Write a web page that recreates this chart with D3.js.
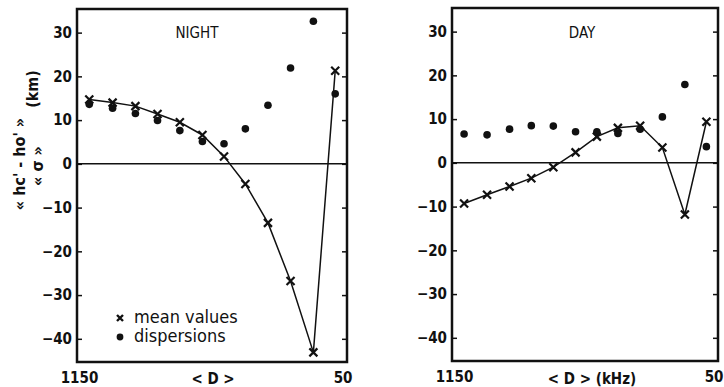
<!DOCTYPE html>
<html>
<head>
<meta charset="utf-8">
<script src="https://cdn.jsdelivr.net/npm/d3@7"></script>
<style>
  body { margin: 0; background: #fff; }
  svg text { font-family: "DejaVu Sans Condensed", "Liberation Sans Narrow", sans-serif; font-weight: bold; fill: #111; }
</style>
</head>
<body>
<div id="chart"></div>
<script>
// values (x = < D > in kHz, y in km)
const xValues = [1100, 1005, 912, 822, 731, 639, 551, 464, 372, 280, 187, 98];
const nightMean = [14.7, 14.0, 13.2, 11.4, 9.5, 6.6, 1.7, -4.6, -13.5, -26.8, -43.1, 21.3];
const nightDisp = [13.6, 12.7, 11.5, 9.9, 7.6, 5.1, 4.6, 8.0, 13.4, 21.9, 32.6, 16.0];
const dayMean = [-9.3, -7.3, -5.4, -3.5, -1.0, 2.4, 6.0, 8.0, 8.5, 3.5, -11.8, 9.4];
const dayDisp = [6.6, 6.4, 7.7, 8.5, 8.4, 7.1, 7.1, 6.7, 7.7, 10.5, 17.9, 3.7];
const yTicks = [-40, -30, -20, -10, 0, 10, 20, 30];
const xTicks = [1150, 50];
const yDomain = [-45.3, 35.4];
const xDomain = [1150, 50];

const width = 724, height = 387;

const svg = d3.select("#chart").append("svg")
  .attr("width", width)
  .attr("height", height);

const panels = [
  { title: "NIGHT", titleX: 197, xLabel: "< D >", xLabelX: 213, mean: nightMean, disp: nightDisp, left: 77, right: 347, top: 9, bottom: 362, legend: true },
  { title: "DAY", titleX: 582, xLabel: "< D > (kHz)", xLabelX: 592, mean: dayMean, disp: dayDisp, left: 452, right: 718, top: 8, bottom: 361, legend: false }
];

panels.forEach(p => {
  const x = d3.scaleLinear().domain(xDomain).range([p.left, p.right]);
  const y = d3.scaleLinear().domain(yDomain).range([p.bottom, p.top]);
  const g = svg.append("g");

  // left axis with inward ticks
  const ax = g.append("g")
    .attr("transform", "translate(" + p.left + ",0)")
    .call(d3.axisLeft(y).tickValues(yTicks).tickSizeInner(-5).tickSizeOuter(0).tickPadding(5));
  ax.select(".domain").remove();
  ax.selectAll("line").attr("stroke", "#111").attr("stroke-width", 1.5);
  ax.selectAll("text").style("font-size", "15px").attr("fill", "#111");

  // right side tick marks only
  const axr = g.append("g")
    .attr("transform", "translate(" + p.right + ",0)")
    .call(d3.axisRight(y).tickValues(yTicks).tickSizeInner(-5).tickSizeOuter(0).tickFormat(""));
  axr.select(".domain").remove();
  axr.selectAll("line").attr("stroke", "#111").attr("stroke-width", 1.5);

  // bottom end labels
  const axb = g.append("g")
    .attr("transform", "translate(0," + p.bottom + ")")
    .call(d3.axisBottom(x).tickValues(xTicks).tickSize(0).tickPadding(10).tickFormat(d3.format("d")));
  axb.select(".domain").remove();
  axb.selectAll("text").style("font-size", "15px").attr("fill", "#111")
    .attr("text-anchor", d => d === 50 ? "end" : "middle")
    .attr("dx", d => d === 50 ? 5 : 2);

  // zero line
  g.append("line")
    .attr("x1", p.left).attr("x2", p.right)
    .attr("y1", y(0)).attr("y2", y(0))
    .attr("stroke", "#111").attr("stroke-width", 1.5);

  // frame
  g.append("rect")
    .attr("x", p.left).attr("y", p.top)
    .attr("width", p.right - p.left).attr("height", p.bottom - p.top)
    .attr("fill", "none").attr("stroke", "#111").attr("stroke-width", 2.5);

  // mean values curve
  const line = d3.line()
    .x((d, i) => x(xValues[i]))
    .y(d => y(d));
  g.append("path")
    .attr("d", line(p.mean))
    .attr("fill", "none").attr("stroke", "#111").attr("stroke-width", 1.5);

  // crosses
  g.selectAll(".cross")
    .data(p.mean)
    .enter()
    .append("path")
    .attr("d", (d, i) => {
      const cx = x(xValues[i]), cy = y(d), r = 4;
      return "M" + (cx - r) + "," + (cy - r) + "L" + (cx + r) + "," + (cy + r) +
             "M" + (cx - r) + "," + (cy + r) + "L" + (cx + r) + "," + (cy - r);
    })
    .attr("stroke", "#111").attr("stroke-width", 2.2);

  // dispersion dots
  g.selectAll(".dot")
    .data(p.disp)
    .enter()
    .append("circle")
    .attr("cx", (d, i) => x(xValues[i]))
    .attr("cy", d => y(d))
    .attr("r", 3.8)
    .attr("fill", "#111");

  // titles
  g.append("text")
    .attr("x", p.titleX).attr("y", 38)
    .attr("text-anchor", "middle")
    .style("font-size", "15px")
    .style("font-weight", "normal")
    .text(p.title);

  g.append("text")
    .attr("x", p.xLabelX).attr("y", 384)
    .attr("text-anchor", "middle")
    .style("font-size", "15px")
    .text(p.xLabel);

  if (p.legend) {
    const lx = 120;
    g.append("path")
      .attr("d", "M" + (lx - 3) + "," + 315 + "L" + (lx + 3) + "," + 321 + "M" + (lx - 3) + "," + 321 + "L" + (lx + 3) + "," + 315)
      .attr("stroke", "#111").attr("stroke-width", 2.4);
    g.append("circle").attr("cx", lx).attr("cy", 337).attr("r", 3.4).attr("fill", "#111");
    g.append("text").attr("x", 134).attr("y", 323).style("font-size", "18px").style("font-weight", "normal").text("mean values");
    g.append("text").attr("x", 134).attr("y", 342).style("font-size", "18px").style("font-weight", "normal").text("dispersions");
  }
});

// y axis label (rotated)
svg.append("text")
  .attr("transform", "translate(25,164) rotate(-90)")
  .attr("text-anchor", "middle")
  .style("font-size", "16px")
  .text("\u00ab hc' - ho' \u00bb");
svg.append("text")
  .attr("transform", "translate(43,166) rotate(-90)")
  .attr("text-anchor", "middle")
  .style("font-size", "16px")
  .text("\u00ab \u03c3 \u00bb");
svg.append("text")
  .attr("transform", "translate(38,89) rotate(-90)")
  .attr("text-anchor", "middle")
  .style("font-size", "16px")
  .text("(km)");
</script>
</body>
</html>
